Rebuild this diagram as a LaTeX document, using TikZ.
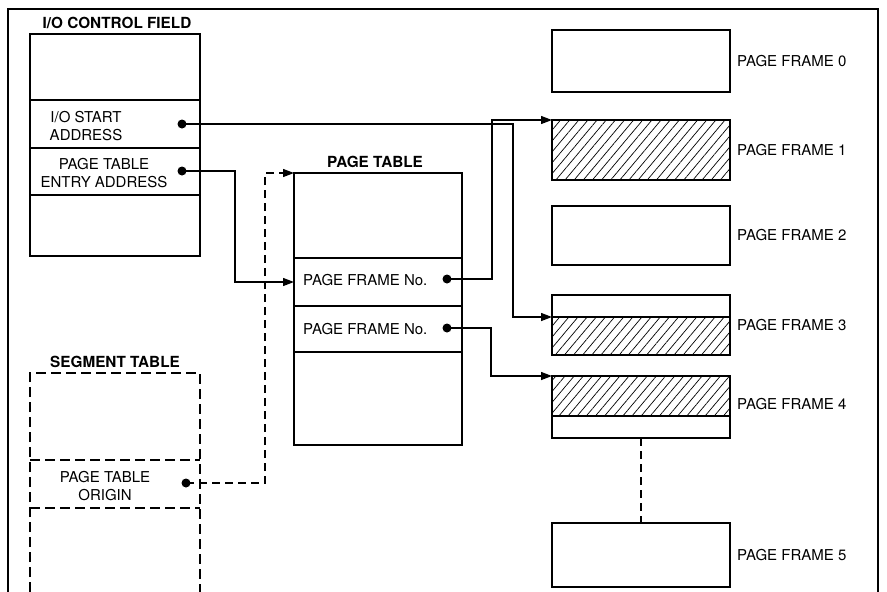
\documentclass[tikz,border=0pt]{standalone}
\usepackage{fontspec}
\setmainfont{TeX Gyre Heros}
\usetikzlibrary{positioning,calc,arrows.meta,patterns.meta}

\begin{document}
\begin{tikzpicture}[x=1pt, y=-1pt,
    row/.style={draw, line width=1.6pt, minimum width=170pt, inner sep=0pt, outer sep=0pt},
    segrow/.style={minimum width=170pt, inner sep=0pt, outer sep=0pt},
    ptrow/.style={row, minimum width=168pt},
    frame/.style={draw, line width=2.4pt, minimum width=178pt, inner sep=0pt, outer sep=0pt},
    hatched/.style={frame, pattern={Lines[angle=50,distance=7pt,line width=0.7pt]}},
    lbl/.style={font=\fontsize{15}{17.5}\selectfont, align=center, inner sep=0pt},
    ttl/.style={font=\bfseries\fontsize{15.3}{17}\selectfont, inner sep=0pt},
    dot/.style={circle, fill, inner sep=0pt, minimum size=9pt},
    link/.style={line width=1.3pt, -{Triangle[length=11pt,width=8pt]}},
    seg/.style={dash pattern=on 10pt off 5pt}]
    \useasboundingbox (0,0) rectangle (887,592);
    \draw[line width=2pt] (8,592) -- (8,9) -- (878,9) -- (878,592);

    % I/O control field
    \node[ttl] (iottl) at (117,23) {I/O CONTROL FIELD};
    \node[row, minimum height=66pt, anchor=north west] (io0) at (30,34) {};
    \node[row, minimum height=48pt, below=0pt of io0] (io1) {};
    \node[row, minimum height=47pt, below=0pt of io1] (io2) {};
    \node[row, minimum height=61pt, below=0pt of io2] (io3) {};
    \draw[line width=2.4pt] (io0.north west) rectangle (io3.south east);
    \node[lbl] (iolbl1) at (86,126) {I/O START\\ADDRESS};
    \node[lbl] (iolbl2) at (104,173) {PAGE TABLE\\ENTRY ADDRESS};
    \node[dot] (iodot1) at (182,124) {};
    \node[dot] (iodot2) at (182,171) {};

    % Segment table
    \node[ttl] (sgttl) at (115,362) {SEGMENT TABLE};
    \node[segrow, minimum height=87pt, anchor=north west] (sg0) at (30,373) {};
    \node[segrow, minimum height=48pt, below=0pt of sg0] (sg1) {};
    \node[segrow, minimum height=84pt, below=0pt of sg1] (sg2) {};
    \draw[seg, line width=2.2pt] (sg2.south west) -- (sg0.north west) -- (sg0.north east) -- (sg2.south east);
    \draw[seg, line width=1.6pt] (sg1.north west) -- (sg1.north east) (sg1.south west) -- (sg1.south east);
    \node[lbl] (sglbl) at (105,486) {PAGE TABLE\\ORIGIN};
    \node[dot] (sgdot) at (186,483) {};

    % Page table
    \node[ttl] (ptttl) at (375,162) {PAGE TABLE};
    \node[ptrow, minimum height=85pt, anchor=north west] (pt0) at (294,173) {};
    \node[ptrow, minimum height=48pt, below=0pt of pt0] (pt1) {};
    \node[ptrow, minimum height=46pt, below=0pt of pt1] (pt2) {};
    \node[ptrow, minimum height=93pt, below=0pt of pt2] (pt3) {};
    \draw[line width=2.4pt] (pt0.north west) rectangle (pt3.south east);
    \node[lbl, anchor=west] (ptlbl1) at (303,280) {PAGE FRAME No.};
    \node[lbl, anchor=west] (ptlbl2) at (303,329) {PAGE FRAME No.};
    \node[dot] (ptdot1) at (447,279) {};
    \node[dot] (ptdot2) at (447,328) {};

    % Page frames
    \node[frame, minimum height=62pt, anchor=north west] (pf0) at (552,30) {};
    \node[hatched, minimum height=60pt, anchor=north west] (pf1) at (552,120) {};
    \node[frame, minimum height=59pt, anchor=north west] (pf2) at (552,206) {};
    \node[frame, minimum height=22pt, anchor=north west] (pf3a) at (552,295) {};
    \node[hatched, minimum height=38pt, below=0pt of pf3a] (pf3b) {};
    \node[hatched, minimum height=40pt, anchor=north west] (pf4a) at (552,376) {};
    \node[frame, minimum height=22pt, below=0pt of pf4a] (pf4b) {};
    \node[frame, minimum height=64pt, anchor=north west] (pf5) at (552,523) {};

    \node[lbl, right=7pt of pf0] (pflbl0) {PAGE FRAME 0};
    \node[lbl, right=7pt of pf1] (pflbl1) {PAGE FRAME 1};
    \node[lbl, right=7pt of pf2] (pflbl2) {PAGE FRAME 2};
    \node[lbl, anchor=west] (pflbl3) at ($(pf3a.north east)!0.5!(pf3b.south east)+(7,0)$) {PAGE FRAME 3};
    \node[lbl, anchor=west] (pflbl4) at ($(pf4a.north east)!0.5!(pf4b.south east)+(7,-3)$) {PAGE FRAME 4};
    \node[lbl, right=7pt of pf5] (pflbl5) {PAGE FRAME 5};

    % Connections
    \draw[link] (iodot1.center) -| ([xshift=-39pt]pf3b.north west) -- (pf3b.north west);
    \draw[link] (iodot2.center) -| ([xshift=-59pt]pt1.west) -- (pt1.west);
    \draw[link, dash pattern=on 8pt off 5pt] (sgdot.center) -| ([xshift=-29pt]pt0.north west) -- (pt0.north west);
    \draw[link] (ptdot1.center) -| ([xshift=-60pt]pf1.north west) -- (pf1.north west);
    \draw[link] (ptdot2.center) -| ([xshift=-61pt]pf4a.north west) -- (pf4a.north west);
    \draw[line width=1.6pt, dash pattern=on 8pt off 5pt] (pf4b.south) -- (pf5.north);
\end{tikzpicture}
\end{document}
